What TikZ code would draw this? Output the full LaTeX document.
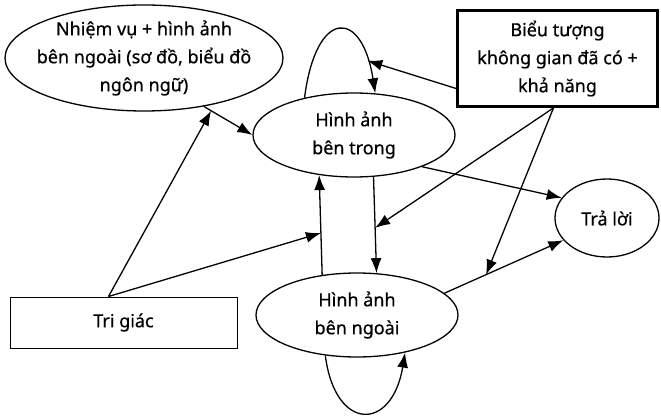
\documentclass[tikz,border=0pt]{standalone}
\usepackage{fontspec}
\setmainfont{Noto Sans}
\newfontfamily\diagfont{Noto Sans}[FakeBold=0.6]
\usetikzlibrary{shapes.geometric,arrows.meta}

\begin{document}
\begin{tikzpicture}[x=1pt,y=-1pt,
        txt/.style={align=center,font=\diagfont\fontsize{18}{28}\selectfont},
        oval/.style={txt,draw,ellipse,line width=1.3pt,inner sep=0pt},
        rect/.style={txt,draw,rectangle,inner sep=0pt},
        arr/.style={line width=1.3pt,-{Latex[length=15pt,width=11pt]}}]
            \useasboundingbox (0,0) rectangle (661,417);
            \node[oval,minimum width=278pt,minimum height=106pt,inner xsep=-35pt,inner ysep=-12pt] (task) at (144,58) {Nhiệm vụ + hình ảnh\\bên ngoài (sơ đồ, biểu đồ\\ngôn ngữ)};
            \node[oval,minimum width=202pt,minimum height=84pt] (inner) at (354,135) {Hình ảnh\\bên trong};
            \node[oval,minimum width=202pt,minimum height=84pt] (outer) at (357,315) {Hình ảnh\\bên ngoài};
            \node[oval,minimum width=104pt,minimum height=78pt] (answer) at (607,218) {Trả lời};
            \node[rect,line width=2.8pt,minimum width=200pt,minimum height=96pt] (sym) at (557.5,58.5) {Biểu tượng\\không gian đã có +\\khả năng};
            \node[rect,line width=1pt,minimum width=227pt,minimum height=51pt] (percept) at (123.5,322.5) {Tri giác};

            \draw[arr] (inner.143) .. controls (316,8) and (362,8) .. coordinate[pos=0.85] (loopin) (inner.63);
            \draw[arr] (outer.232) .. controls (335,432) and (392,432) .. (outer.-38);
            \draw[arr] ([yshift=-30pt]sym.west) -- (loopin);
            \draw[arr] (task.-39) -- coordinate[pos=0.15] (taskin) (inner.west);
            \draw[arr] (outer.131) -- coordinate[pos=0.42] (upin) (inner.229);
            \draw[arr] (inner.-65) -- coordinate[pos=0.53] (downin) (outer.65);
            \draw[arr] (inner.-25) -- (answer.156);
            \draw[arr] (outer.14) -- coordinate[pos=0.35] (answerin) (answer.207);
            \draw[arr] ([xshift=-15pt]percept.north) -- (taskin);
            \draw[arr] ([xshift=-15pt]percept.north) -- (upin);
            \draw[arr] ([xshift=-4pt]sym.south) -- (downin);
            \draw[arr] ([xshift=-4pt]sym.south) -- (answerin);
\end{tikzpicture}
\end{document}
